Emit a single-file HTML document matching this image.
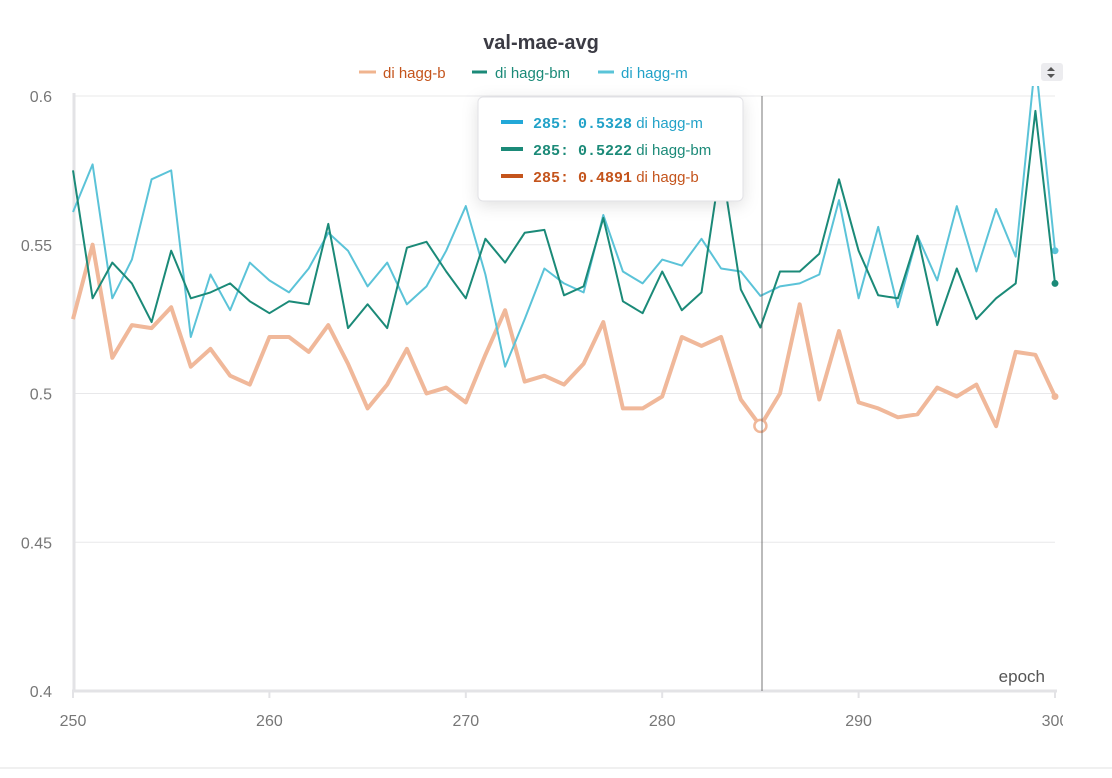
<!DOCTYPE html>
<html><head><meta charset="utf-8"><style>
body{margin:0;width:1112px;height:773px;background:#fff;overflow:hidden;font-family:"Liberation Sans",sans-serif}
svg text{font-family:"Liberation Sans",sans-serif}
</style></head><body>
<svg id="chart" width="1112" height="773">
<text x="541" y="49" text-anchor="middle" font-size="20" font-weight="bold" fill="#3b3b44">val-mae-avg</text>
<g>
<g><line x1="359" y1="72" x2="376" y2="72" stroke="#f0b48f" stroke-width="3"/><text x="383" y="78" font-size="15" fill="#c4541c">di hagg-b</text></g>
<g><line x1="472" y1="72" x2="487" y2="72" stroke="#1b8a78" stroke-width="3"/><text x="495" y="78" font-size="15" fill="#1b8a78">di hagg-bm</text></g>
<g><line x1="598" y1="72" x2="614" y2="72" stroke="#5ac4d8" stroke-width="3"/><text x="621" y="78" font-size="15" fill="#22a2c8">di hagg-m</text></g>
</g>
<g><rect x="1041" y="63" width="22" height="18" rx="3" fill="#ececef"/><path d="M1047 71 L1051 67 L1055 71Z M1047 74 L1051 78 L1055 74Z" fill="#555"/></g>
<defs><clipPath id="clip"><rect x="60" y="86" width="1010" height="610"/></clipPath>
<clipPath id="axclip"><rect x="0" y="0" width="1063" height="773"/></clipPath></defs>
<g id="grid"></g><g id="axes" clip-path="url(#axclip)"></g>
<g id="series" clip-path="url(#clip)"></g>
<line x1="762" y1="96" x2="762" y2="691" stroke="#555" stroke-width="0.8"/>
<text x="1045" y="682" text-anchor="end" font-size="17" fill="#555">epoch</text>
<g>
<rect x="478" y="97" width="265" height="104" rx="5" fill="#fff" stroke="#e2e2e6" style="filter:drop-shadow(0 4px 8px rgba(0,0,0,0.12))"/>
<line x1="501" y1="122" x2="523" y2="122" stroke="#22a8d8" stroke-width="4"/>
<text x="533" y="128" font-size="15" fill="#22a2c8"><tspan font-family="Liberation Mono" font-weight="bold">285: 0.5328</tspan> di hagg-m</text>
<line x1="501" y1="149" x2="523" y2="149" stroke="#1b8a78" stroke-width="4"/>
<text x="533" y="155" font-size="15" fill="#1b8a78"><tspan font-family="Liberation Mono" font-weight="bold">285: 0.5222</tspan> di hagg-bm</text>
<line x1="501" y1="176" x2="523" y2="176" stroke="#c4541c" stroke-width="4"/>
<text x="533" y="182" font-size="15" fill="#c4541c"><tspan font-family="Liberation Mono" font-weight="bold">285: 0.4891</tspan> di hagg-b</text>
</g>
<line x1="0" y1="768" x2="1112" y2="768" stroke="#e0e0e0"/>
</svg>
<script>
const epochs=[];for(let e=250;e<=300;e++)epochs.push(e);
const haggM=[0.561,0.577,0.532,0.545,0.572,0.575,0.519,0.540,0.528,0.544,0.538,0.534,0.542,0.554,0.548,0.536,0.544,0.530,0.536,0.548,0.563,0.540,0.509,0.525,0.542,0.537,0.534,0.560,0.541,0.537,0.545,0.543,0.552,0.542,0.541,0.5328,0.536,0.537,0.540,0.565,0.532,0.556,0.529,0.553,0.538,0.563,0.541,0.562,0.546,0.612,0.548];
const haggBM=[0.575,0.532,0.544,0.537,0.524,0.548,0.532,0.534,0.537,0.531,0.527,0.531,0.530,0.557,0.522,0.530,0.522,0.549,0.551,0.541,0.532,0.552,0.544,0.554,0.555,0.533,0.536,0.559,0.531,0.527,0.541,0.528,0.534,0.578,0.535,0.5222,0.541,0.541,0.547,0.572,0.548,0.533,0.532,0.553,0.523,0.542,0.525,0.532,0.537,0.595,0.537];
const haggB=[0.525,0.550,0.512,0.523,0.522,0.529,0.509,0.515,0.506,0.503,0.519,0.519,0.514,0.523,0.510,0.495,0.503,0.515,0.500,0.502,0.497,0.513,0.528,0.504,0.506,0.503,0.510,0.524,0.495,0.495,0.499,0.519,0.516,0.519,0.498,0.4891,0.500,0.530,0.498,0.521,0.497,0.495,0.492,0.493,0.502,0.499,0.503,0.489,0.514,0.513,0.499];
const yTicks=[0.4,0.45,0.5,0.55,0.6];
const yTickLabels=["0.4","0.45","0.5","0.55","0.6"];
const xTicks=[250,260,270,280,290,300];
const xTickLabels=["250","260","270","280","290","300"];
const NS="http://www.w3.org/2000/svg";
const X=e=>73+(e-250)*(1055-73)/50;
const Y=v=>691-(v-0.4)*(691-96)/0.2;
function mk(tag,attrs,parent){const el=document.createElementNS(NS,tag);for(const k in attrs)el.setAttribute(k,attrs[k]);parent.appendChild(el);return el;}
const grid=document.getElementById('grid'),axes=document.getElementById('axes'),ser=document.getElementById('series');
yTicks.forEach((t,i)=>{
 if(t>0.4){const g=mk('line',{x1:73,x2:1055,y1:Y(t),y2:Y(t),stroke:'#e8e8ea','stroke-width':1},grid);
 
 }
 const tx=mk('text',{x:52,y:Y(t)+6,'text-anchor':'end','font-size':16,fill:'#777'},axes);tx.textContent=yTickLabels[i];
 
 
});
const ya=mk('line',{x1:74,x2:74,y1:93,y2:692,stroke:'#e3e3e6','stroke-width':3},axes);


const xa=mk('line',{x1:72,x2:1057,y1:691,y2:691,stroke:'#e3e3e6','stroke-width':3},axes);


xTicks.forEach((t,i)=>{
 mk('line',{x1:X(t),x2:X(t),y1:691,y2:698,stroke:'#e3e3e6','stroke-width':2},axes);
 const tx=mk('text',{x:X(t),y:726,'text-anchor':'middle','font-size':16,fill:'#777'},axes);tx.textContent=xTickLabels[i];
 
 
});
function line(vals,color,w,name){
 const d=vals.map((v,i)=>(i?'L':'M')+X(epochs[i]).toFixed(1)+' '+Y(v).toFixed(1)).join(' ');
 const p=mk('path',{d:d,fill:'none',stroke:color,'stroke-width':w,'stroke-linejoin':'round'},ser);
 
 
 const n=vals.length-1;
 const c=mk('circle',{cx:X(epochs[n]),cy:Y(vals[n]),r:3.5,fill:color},ser);
 
 
}
line(haggB,'#f0b89a',4,'series-hagg-b');
line(haggM,'#5bc3d8',2,'series-hagg-m');
line(haggBM,'#1b8a78',2,'series-hagg-bm');
const hi=epochs.indexOf(285);
const hc=mk('circle',{cx:X(285),cy:Y(haggB[hi]),r:6,fill:'#fff',stroke:'#f0b89a','stroke-width':2.5},ser);


</script>
</body></html>
